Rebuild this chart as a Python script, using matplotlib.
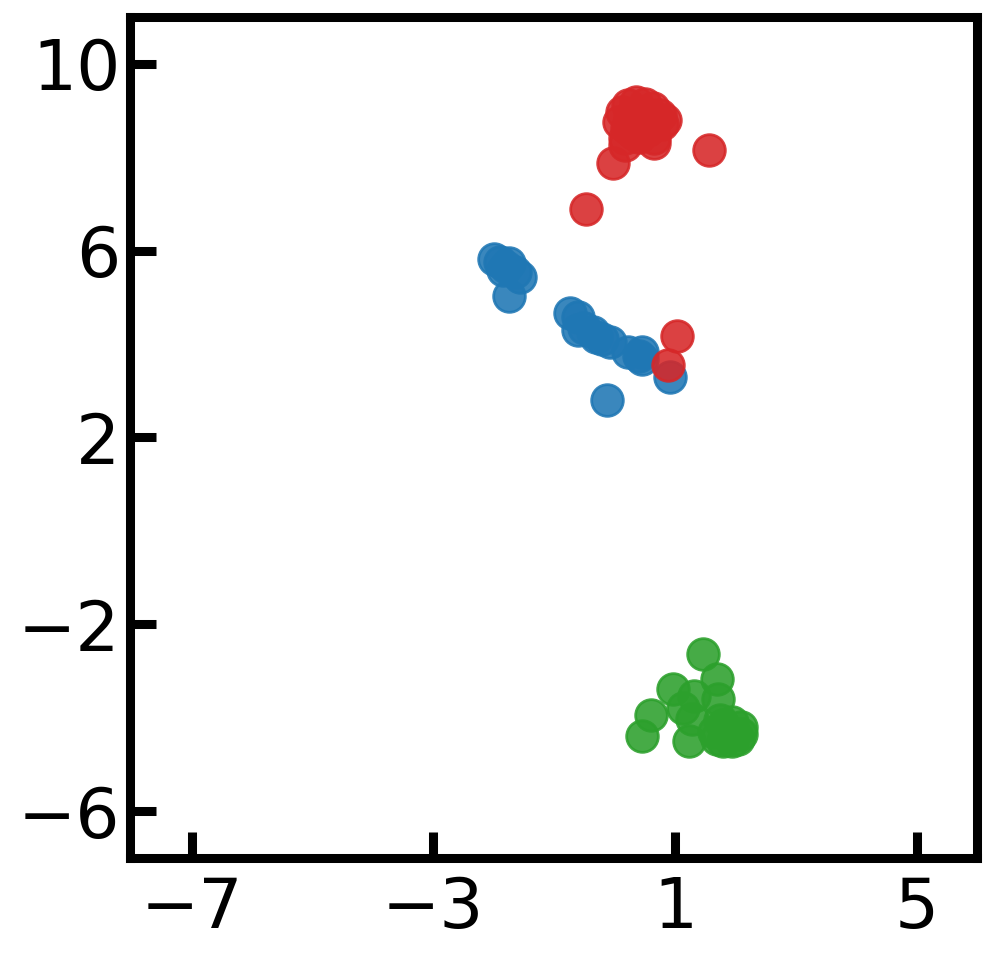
import numpy as np
import matplotlib
matplotlib.use("Agg")
import matplotlib.pyplot as plt

# cluster coordinates
blue_x = [-1.99, -1.74, -1.57, -1.74, -1.85, -1.90, -1.80, -1.65, -0.74, -0.61, -0.61,
          -0.36, -0.20, -0.08, -0.50, -0.30, 0.22, 0.46, 0.46, 0.91, -0.13, 0.40]
blue_y = [5.83, 5.74, 5.44, 5.02, 5.59, 5.75, 5.65, 5.55, 4.67, 4.57, 4.31,
          4.25, 4.10, 4.05, 4.35, 4.15, 3.82, 3.84, 3.67, 3.30, 2.81, 3.75]

green_x = [1.46, 1.69, 0.96, 1.32, 1.71, 0.61, 0.46, 1.13, 1.24, 1.29,
           1.65, 1.80, 1.95, 2.10, 2.10, 1.95, 1.80, 1.70, 1.90, 2.05, 1.75]
green_y = [-2.64, -3.18, -3.39, -3.54, -3.60, -3.93, -4.40, -3.78, -4.50, -4.03,
           -4.30, -4.15, -4.10, -4.20, -4.35, -4.50, -4.50, -4.45, -4.30, -4.45, -4.05]

red_x = [0.12, 0.22, 0.35, 0.50, 0.63, 0.75, 0.83, 0.08, 0.20, 0.30, 0.41, 0.55, 0.66,
         0.38, 0.50, 0.25, 0.58, 0.17, 0.66, 0.78, -0.03, 1.56, -0.48, 0.66, 0.17, 1.04, 0.89]
red_y = [8.97, 9.12, 9.17, 9.14, 9.06, 8.91, 8.80, 8.76, 8.63, 8.52, 8.44, 8.59, 8.70,
         8.91, 8.84, 8.84, 8.91, 8.42, 8.42, 8.70, 7.88, 8.16, 6.88, 8.31, 8.27, 4.18, 3.56]

xticks = [-7, -3, 1, 5]
yticks = [-6, -2, 2, 6, 10]

fig = plt.figure(figsize=(9.96, 9.55), dpi=100)
ax = fig.add_axes([0.1305, 0.1016, 0.8505, 0.8806])

for xs, ys, c in [(blue_x, blue_y, "#1f77b4"), (green_x, green_y, "#2ca02c"), (red_x, red_y, "#d62728")]:
    ax.scatter(xs, ys, s=520, color=c, edgecolors=c, linewidths=2, alpha=0.88)

ax.set_xlim(-8.02, 6.0)
ax.set_ylim(-7.0, 11.0)
ax.set_xticks(xticks)
ax.set_yticks(yticks)
ax.tick_params(direction="in", length=19, width=6.5, labelsize=50, pad=7)
ax.tick_params(axis="x", pad=12)
for sp in ax.spines.values():
    sp.set_linewidth(6.5)

fig.savefig("out.png", dpi=100)
